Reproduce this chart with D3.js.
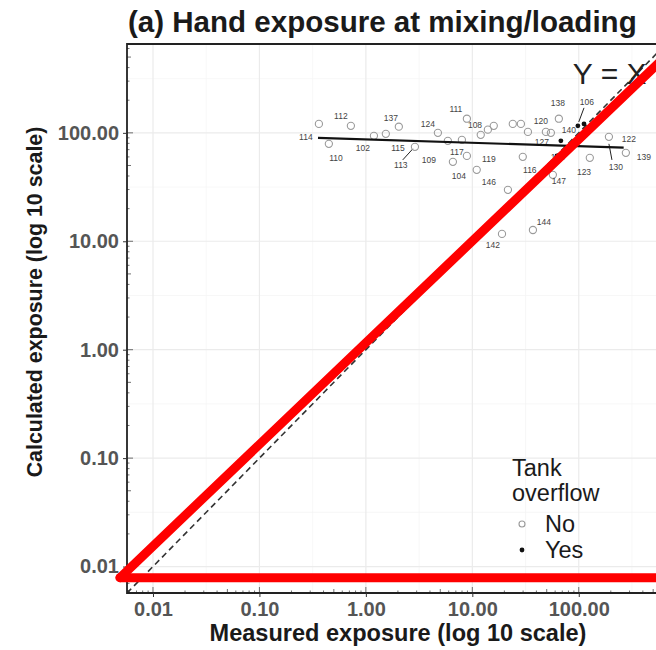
<!DOCTYPE html>
<html><head><meta charset="utf-8">
<script src="https://cdn.jsdelivr.net/npm/d3@7"></script>
<style>body{margin:0;background:#fff}</style>
</head><body>
<svg id="c" width="656" height="650"></svg>
<script>
// ---- data ----
const tickValues = [0.01, 0.1, 1, 10, 100];
const tickLabels = ["0.01", "0.10", "1.00", "10.00", "100.00"];
const axisDomain = [0.0057, 660];

// Tank overflow = No (open circles)
const noX = [0.362, 0.449, 0.723, 1.19, 1.54, 2.04, 2.89, 4.75, 5.89, 7.98, 6.57, 8.89, 8.89, 11.0, 12.0, 14.0, 15.9, 24.0, 28.6, 33.3, 49.1, 54.7, 65.0, 29.8, 21.6, 127, 192, 277, 19.0, 37.1, 57.1];
const noY = [121, 79.2, 116, 93.8, 97.9, 114, 74.3, 100, 84.4, 86.1, 54.0, 135, 61.3, 45.6, 95.8, 107, 116, 121, 121, 102, 102, 100, 135, 60.1, 29.8, 58.8, 91.9, 65.4, 11.7, 12.7, 41.0];
// Tank overflow = Yes (filled dots)
const yesX = [67.9, 62.3, 98.1, 112];
const yesY = [84.4, 61.3, 116, 121];

// point ID labels
const labelText = ["114","112","110","102","137","115","113","124","109","111","108","117","104","119","146","120","138","106","140","127","103","147","123","116","122","130","139","144","142"];
const labelX = [0.273, 0.582, 0.523, 0.937, 1.72, 2.00, 2.13, 3.82, 3.91, 7.01, 10.6, 7.16, 7.47, 14.3, 14.3, 44.1, 63.6, 119, 80.7, 45.0, 63.6, 65.1, 112, 34.7, 296, 223, 409, 47.0, 15.6];
const labelY = [91.9, 144, 58.8, 72.7, 138, 72.7, 50.7, 121, 56.3, 166, 119, 66.8, 40.1, 57.6, 35.3, 129, 189, 193, 107, 82.6, 60.1, 36.1, 43.7, 45.6, 88.0, 48.6, 60.1, 15.1, 9.26];
// label leader segments
const leaderX1 = [2.22, 205, 112], leaderY1 = [56.3, 56.3, 170];
const leaderX2 = [2.76, 192, 100], leaderY2 = [71.2, 79.2, 126];

// fitted regression line
const fitX = [0.355, 264], fitY = [90, 73];
// Y = X reference
const idX = [0.0057, 660], idY = [0.0057, 660];
const idLabel = "Y = X", idLabelX = 88, idLabelY = 282;
// red annotation overlay
const redDiagX = [0.0049, 1000], redDiagY = [0.0079, 755];
const redBaseX = [0.0049, 1000], redBaseY = [0.0079, 0.0079];

const legendTitle = ["Tank", "overflow"];
const legendLabels = ["No", "Yes"];

// ---- drawing ----
const svg = d3.select("#c");
const L = 127, R = 666, T = 44, B = 593;
const x = d3.scaleLog().domain(axisDomain).range([L, R]);
const y = d3.scaleLog().domain(axisDomain).range([B, T]);
const font = "'Liberation Sans', Arial, sans-serif";

svg.append("defs").append("clipPath").attr("id", "clip")
  .append("rect").attr("x", L).attr("y", T).attr("width", R - L).attr("height", B - T);

// grid
const minor = tickValues.concat([1000]).map(v => v / Math.sqrt(10));
const g = svg.append("g").attr("clip-path", "url(#clip)");
g.selectAll(".mx").data(minor).join("line")
  .attr("x1", d => x(d)).attr("x2", d => x(d)).attr("y1", T).attr("y2", B)
  .attr("stroke", "#f3f3f3").attr("stroke-width", 0.7);
g.selectAll(".my").data(minor).join("line")
  .attr("y1", d => y(d)).attr("y2", d => y(d)).attr("x1", L).attr("x2", R)
  .attr("stroke", "#f3f3f3").attr("stroke-width", 0.7);
g.selectAll(".gx").data(tickValues).join("line")
  .attr("x1", d => x(d)).attr("x2", d => x(d)).attr("y1", T).attr("y2", B)
  .attr("stroke", "#ebebeb").attr("stroke-width", 1.2);
g.selectAll(".gy").data(tickValues).join("line")
  .attr("y1", d => y(d)).attr("y2", d => y(d)).attr("x1", L).attr("x2", R)
  .attr("stroke", "#ebebeb").attr("stroke-width", 1.2);

// log ticks inside (annotation_logticks style)
const logt = [];
[0.001, 0.01, 0.1, 1, 10, 100].forEach(d => { for (let k = 1; k <= 9; k++) logt.push({v: d * k, k}); });
const lt = logt.filter(o => o.v >= axisDomain[0] && o.v <= axisDomain[1]);
const tlen = o => o.k === 1 ? 6 : (o.k === 5 ? 4 : 2.5);
svg.append("g").selectAll("line").data(lt).join("line")
  .attr("x1", d => x(d.v)).attr("x2", d => x(d.v)).attr("y1", B).attr("y2", d => B - tlen(d))
  .attr("stroke", "#333").attr("stroke-width", 0.7);
svg.append("g").selectAll("line").data(lt).join("line")
  .attr("y1", d => y(d.v)).attr("y2", d => y(d.v)).attr("x1", L).attr("x2", d => L + tlen(d))
  .attr("stroke", "#333").attr("stroke-width", 0.7);

// identity dashed line
const line = d3.line().x(d => x(d[0])).y(d => y(d[1]));
g.append("path").attr("d", line(d3.zip(idX, idY)))
  .attr("stroke", "#333").attr("stroke-width", 1.6).attr("stroke-dasharray", "6,4").attr("fill", "none");

// leaders
g.selectAll(".ld").data(d3.range(leaderX1.length)).join("line")
  .attr("x1", i => x(leaderX1[i])).attr("y1", i => y(leaderY1[i]))
  .attr("x2", i => x(leaderX2[i])).attr("y2", i => y(leaderY2[i]))
  .attr("stroke", "#222").attr("stroke-width", 1);

// points
g.selectAll(".pn").data(d3.zip(noX, noY)).join("circle")
  .attr("cx", d => x(d[0])).attr("cy", d => y(d[1])).attr("r", 3.6)
  .attr("fill", "none").attr("stroke", "#9a9a9a").attr("stroke-width", 1.1);
g.selectAll(".py").data(d3.zip(yesX, yesY)).join("circle")
  .attr("cx", d => x(d[0])).attr("cy", d => y(d[1])).attr("r", 2.4)
  .attr("fill", "#111");

// labels
g.selectAll(".lb").data(d3.range(labelText.length)).join("text")
  .attr("x", i => x(labelX[i])).attr("y", i => y(labelY[i]))
  .attr("text-anchor", "middle").attr("dominant-baseline", "central")
  .attr("font-family", font).attr("font-size", 8.5).attr("fill", "#444")
  .text(i => labelText[i]);

// fitted line
g.append("path").attr("d", line(d3.zip(fitX, fitY)))
  .attr("stroke", "#111").attr("stroke-width", 2.2).attr("fill", "none");

// Y = X text
g.append("text").attr("x", x(idLabelX)).attr("y", y(idLabelY))
  .attr("font-family", font).attr("font-size", 30).attr("fill", "#222").text(idLabel);

// panel border
svg.append("path").attr("d", `M${R},${T}H${L}V${B}H${R}`)
  .attr("fill", "none").attr("stroke", "#222").attr("stroke-width", 1.8);

// axes
const ax = svg.append("g").attr("transform", `translate(0,${B})`)
  .call(d3.axisBottom(x).tickValues(tickValues).tickFormat((d, i) => tickLabels[i]).tickSize(4).tickPadding(5));
const ay = svg.append("g").attr("transform", `translate(${L},0)`)
  .call(d3.axisLeft(y).tickValues(tickValues).tickFormat((d, i) => tickLabels[i]).tickSize(4).tickPadding(4));
[ax, ay].forEach(a => {
  a.select(".domain").remove();
  a.selectAll(".tick line").attr("stroke", "#333").attr("stroke-width", 1);
  a.selectAll("text").attr("font-family", font).attr("font-size", 20).attr("font-weight", "bold").attr("fill", "#555");
});

// titles
function fit(sel, w) {
  const n = sel.node(); const cur = +sel.attr("font-size");
  const len = n.getComputedTextLength(); sel.attr("font-size", cur * w / len);
}
const t1 = svg.append("text").attr("x", 128).attr("y", 32).attr("font-family", font)
  .attr("font-weight", "bold").attr("font-size", 22).attr("fill", "#1a1a1a")
  .text("(a) Hand exposure at mixing/loading");
fit(t1, 509);
const t2 = svg.append("text").attr("x", 398).attr("y", 641).attr("text-anchor", "middle").attr("font-family", font)
  .attr("font-weight", "bold").attr("font-size", 18).attr("fill", "#1a1a1a")
  .text("Measured exposure (log 10 scale)");
fit(t2, 377);
const t3 = svg.append("text").attr("transform", "translate(42,302) rotate(-90)").attr("text-anchor", "middle").attr("font-family", font)
  .attr("font-weight", "bold").attr("font-size", 18).attr("fill", "#1a1a1a")
  .text("Calculated exposure (log 10 scale)");
fit(t3, 351);

// legend
const lg = svg.append("g").attr("font-family", font).attr("fill", "#1a1a1a");
lg.selectAll(".lt").data(legendTitle).join("text")
  .attr("x", 512).attr("y", (d, i) => 476 + i * 25).attr("font-size", 23.5).text(d => d);
lg.selectAll(".ll").data(legendLabels).join("text")
  .attr("x", 545).attr("y", (d, i) => 532 + i * 26).attr("font-size", 23.5).text(d => d);
lg.append("circle").attr("cx", 522).attr("cy", 524).attr("r", 3).attr("fill", "none").attr("stroke", "#9a9a9a").attr("stroke-width", 1.1);
lg.append("circle").attr("cx", 522).attr("cy", 550).attr("r", 2.4).attr("fill", "#111");

// red annotation overlay
const red = svg.append("g");
[[redDiagX, redDiagY], [redBaseX, redBaseY]].forEach(([xs, ys]) => {
  red.append("path").attr("d", line(d3.zip(xs, ys)))
    .attr("stroke", "#ff0000").attr("stroke-width", 9).attr("stroke-linecap", "round").attr("fill", "none");
});
</script>
</body></html>
